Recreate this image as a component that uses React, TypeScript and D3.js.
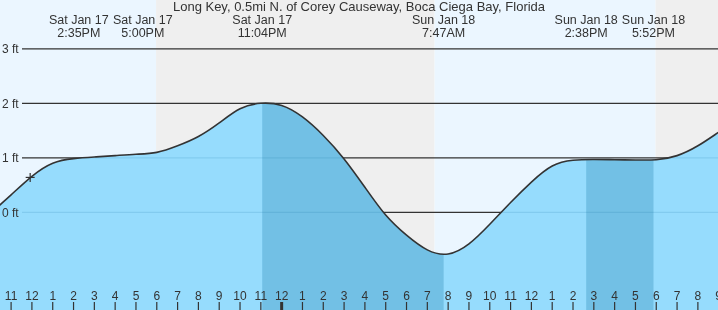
import React from "react";
import * as d3 from "d3";

const W = 718;
const H = 310;

const title = "Long Key, 0.5mi N. of Corey Causeway, Boca Ciega Bay, Florida";

// hourly predictions, Sat Jan 17 10AM .. Sun Jan 18 10PM (ft)
const hourlyStart: [number, number, number] = [17, 10, 0];
const hourlyHeights = [
  -0.02, 0.32, 0.66, 0.9, 0.985, 1.015, 1.04, 1.065, 1.1, 1.22, 1.39, 1.64, 1.9, 2.0,
  1.96, 1.75, 1.41, 0.98, 0.46, -0.05, -0.42, -0.69, -0.765, -0.58, -0.22, 0.18, 0.555,
  0.85, 0.955, 0.97, 0.965, 0.96, 0.965, 1.04, 1.22, 1.47, 1.72,
];

// tide events (labels)
const eventDays = ["Sat Jan 17", "Sat Jan 17", "Sat Jan 17", "Sun Jan 18", "Sun Jan 18", "Sun Jan 18"];
const eventClock = ["2:35PM", "5:00PM", "11:04PM", "7:47AM", "2:38PM", "5:52PM"];
const eventTimes: [number, number, number][] = [
  [17, 14, 35], [17, 17, 0], [17, 23, 4], [18, 7, 47], [18, 14, 38], [18, 17, 52],
];

// falling-tide (high -> low) shaded intervals, as event index pairs
const fallingPairs: [number, number][] = [[2, 3], [4, 5]];

// sun
const sunsets: [number, number, number][] = [[17, 17, 58], [18, 17, 58]];
const sunrises: [number, number, number][] = [[18, 7, 21]];

// current time marker
const nowTime: [number, number, number] = [17, 11, 55];
const nowHeight = 0.64;

const yTicks = [0, 1, 2, 3];
const domainStart: [number, number, number] = [17, 10, 28];
const domainEnd: [number, number, number] = [18, 20, 58];

const mk = (t: [number, number, number]) => new Date(2026, 0, t[0], t[1], t[2]);

const FONT = "'Liberation Sans', Arial, sans-serif";

export default function App() {
  const x = d3.scaleTime().domain([mk(domainStart), mk(domainEnd)]).range([0, W]);
  const y = d3.scaleLinear().domain([0, 3]).range([212.3, 48.8]);

  const series = hourlyHeights.map((v, i) => {
    const d = mk(hourlyStart);
    d.setHours(d.getHours() + i);
    return { t: d, v };
  });

  const curve = d3.curveNatural;
  const area = d3
    .area<{ t: Date; v: number }>()
    .x((d) => x(d.t))
    .y0(H)
    .y1((d) => y(d.v))
    .curve(curve);
  const line = d3
    .line<{ t: Date; v: number }>()
    .x((d) => x(d.t))
    .y((d) => y(d.v))
    .curve(curve);

  // day / night bands
  const x0 = x.domain()[0];
  const x1 = x.domain()[1];
  const transitions = [
    ...sunsets.map((s) => ({ t: mk(s), night: true })),
    ...sunrises.map((s) => ({ t: mk(s), night: false })),
  ].sort((a, b) => +a.t - +b.t);
  const bands: { a: Date; b: Date; night: boolean }[] = [];
  let cur = x0;
  let night = false;
  transitions.forEach((tr) => {
    bands.push({ a: cur, b: tr.t, night });
    cur = tr.t;
    night = tr.night;
  });
  bands.push({ a: cur, b: x1, night });

  // event label positions with collision avoidance
  const minSep = 64;
  const lx = eventTimes.map((t) => x(mk(t)));
  for (let i = 0; i < lx.length - 1; i++) {
    const d = lx[i + 1] - lx[i];
    if (d < minSep) {
      const s = (minSep - d) / 2;
      lx[i] -= s;
      lx[i + 1] += s;
    }
  }

  const hours = d3.timeHour.range(x0, d3.timeHour.offset(x1, 1));

  return (
    <svg
      width={W}
      height={H}
      style={{ position: "fixed", left: 0, top: 0, display: "block" }}
      fontFamily={FONT}
    >
      <defs>
        <clipPath id="water">
          <path d={area(series) || ""} />
        </clipPath>
      </defs>
      {bands.map((b, i) => (
        <rect
          key={i}
          x={x(b.a)}
          y={0}
          width={x(b.b) - x(b.a)}
          height={H}
          fill={b.night ? "#efefef" : "#ebf6ff"}
        />
      ))}
      {yTicks.map((v) => (
        <line key={v} x1={22} x2={W} y1={y(v)} y2={y(v)} stroke="#333" strokeWidth={1.3} />
      ))}
      <path d={area(series) || ""} fill="#96dcfd" />
      <g clipPath="url(#water)">
        {fallingPairs.map(([a, b], i) => (
          <rect
            key={i}
            x={x(mk(eventTimes[a]))}
            y={0}
            width={x(mk(eventTimes[b])) - x(mk(eventTimes[a]))}
            height={H}
            fill="#72c0e5"
          />
        ))}
        {yTicks.map((v) => (
          <line key={v} x1={22} x2={W} y1={y(v)} y2={y(v)} stroke="rgba(0,90,150,0.13)" strokeWidth={1.3} />
        ))}
      </g>
      <path d={line(series) || ""} fill="none" stroke="#333" strokeWidth={1.6} />
      {yTicks.map((v) => (
        <text key={v} x={2} y={y(v) + 4.5} fontSize={12} fill="#333">
          {v} ft
        </text>
      ))}
      {/* current time marker */}
      <g transform={`translate(${x(mk(nowTime))},${y(nowHeight)})`} stroke="#333" strokeWidth={1.2}>
        <line x1={-4.5} x2={4.5} y1={0} y2={0} />
        <line x1={0} x2={0} y1={-4.5} y2={4.5} />
      </g>
      <text x={W / 2} y={11} textAnchor="middle" fontSize={13} fill="#333">
        {title}
      </text>
      {eventTimes.map((t, i) => (
        <g key={i} fontSize={12.5} fill="#333" textAnchor="middle">
          <text x={lx[i]} y={24}>{eventDays[i]}</text>
          <text x={lx[i]} y={36.5}>{eventClock[i]}</text>
        </g>
      ))}
      {hours.map((h, i) => {
        const hh = h.getHours();
        const lab = hh % 12 === 0 ? 12 : hh % 12;
        const mid = hh === 0;
        return (
          <g key={i} transform={`translate(${x(h)},0)`}>
            <line y1={302} y2={H} stroke="#333" strokeWidth={mid ? 3 : 1.2} />
            <text y={300} textAnchor="middle" fontSize={12} fill="#333">
              {lab}
            </text>
          </g>
        );
      })}
    </svg>
  );
}
